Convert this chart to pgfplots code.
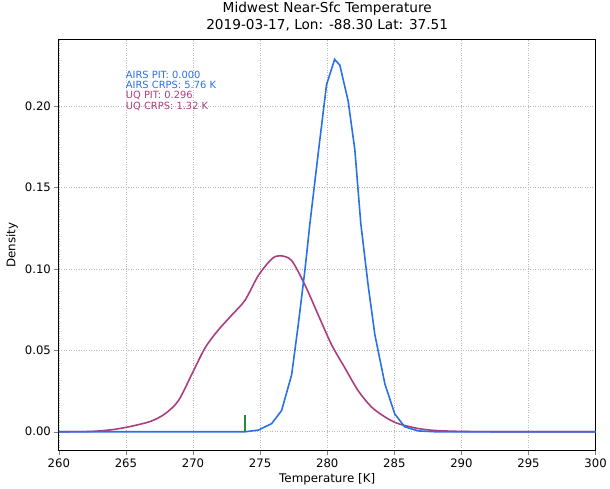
\documentclass[border=0pt]{standalone}
\usepackage{pgfplots}
\pgfplotsset{compat=1.18}
\usepackage{fontspec}
\setmainfont{DejaVu Sans}
\definecolor{airsblue}{RGB}{40,112,232}
\definecolor{uqpurple}{RGB}{170,62,125}
\definecolor{obsgreen}{RGB}{34,139,60}
\begin{document}
\begin{tikzpicture}[x=1bp,y=1bp]
\begin{axis}[
  scale only axis,
  width=540.7bp, height=414bp,
  xmin=260, xmax=300,
  ymin=-0.0116, ymax=0.2406,
  xtick={260,265,...,300},
  ytick={0,0.05,0.10,0.15,0.20},
  yticklabel style={/pgf/number format/.cd,fixed,fixed zerofill,precision=2},
  /pgf/number format/assume math mode=true,
  tick label style={font=\fontsize{11.8}{14}\selectfont},
  xtick pos=bottom, ytick pos=left,
  grid=major,
  major grid style={gray!55, line width=0.6bp, dash pattern=on 1bp off 1.5bp},
  tick align=outside,
  major tick length=4.5bp,
  xlabel={Temperature [K]},
  ylabel={Density},
  label style={font=\fontsize{12}{14}\selectfont},
  ylabel style={at={(axis description cs:-0.087,0.5)}, anchor=center},
  xlabel style={yshift=1bp},
  title={Midwest Near-Sfc Temperature\\2019-03-17, Lon: -88.30 Lat: 37.51},
  title style={align=center, font=\fontsize{13.8}{17}\selectfont, at={(axis description cs:0.5,1)}, anchor=south, inner sep=0pt, yshift=3bp},
  axis line style={black, line width=0.8bp},
  clip=true,
]
\addplot[uqpurple, line width=1.6bp, smooth, tension=0.5] coordinates {
(260,0) (262,0.0001) (263,0.0005) (264,0.0013) (264.96,0.0026) (266,0.0045) (266.94,0.0067)
(267.93,0.0111) (268.92,0.0192) (269.91,0.0353) (270.9,0.0515) (271.9,0.0626)
(272.9,0.0717) (273.88,0.0808) (274.87,0.0959) (275.86,0.106) (276.5,0.108)
(277.35,0.105) (278.35,0.0899) (279.33,0.0717) (280.32,0.0535) (281.3,0.0394)
(282.3,0.0253) (283.3,0.0152) (284.3,0.0091) (285.28,0.005) (286.77,0.002)
(288,0.0008) (290,0.0002) (293,0) (300,0)
};
\addplot[airsblue, line width=1.6bp] coordinates {
(260,0) (273.9,0) (274.87,0.001) (275.86,0.005) (276.6,0.013) (277.35,0.035)
(277.84,0.0656) (278.35,0.1) (278.7,0.127) (279.33,0.171) (279.95,0.213)
(280.55,0.2285) (280.94,0.225) (281.56,0.203) (282.06,0.173) (282.5,0.128)
(283.05,0.0899) (283.55,0.0596) (284.3,0.0293) (285.03,0.011) (285.78,0.003)
(286.8,0.0005) (288,0) (300,0)
};
\addplot[draw=obsgreen, line width=2bp, mark=none] coordinates {(273.9,0) (273.9,0.0101)};
\node[anchor=west, text=airsblue, font=\fontsize{10}{12}\selectfont, inner sep=0pt] at (axis cs:264.98,0.2191) {AIRS PIT: 0.000};
\node[anchor=west, text=airsblue, font=\fontsize{10}{12}\selectfont, inner sep=0pt] at (axis cs:264.98,0.2127) {AIRS CRPS: 5.76 K};
\node[anchor=west, text=uqpurple, font=\fontsize{10}{12}\selectfont, inner sep=0pt] at (axis cs:264.98,0.2063) {UQ PIT: 0.296};
\node[anchor=west, text=uqpurple, font=\fontsize{10}{12}\selectfont, inner sep=0pt] at (axis cs:264.98,0.1999) {UQ CRPS: 1.32 K};
\end{axis}
\path (current axis.south west) ++(-59.3bp,-37bp) rectangle ++(610bp,491bp);
\end{tikzpicture}
\end{document}
